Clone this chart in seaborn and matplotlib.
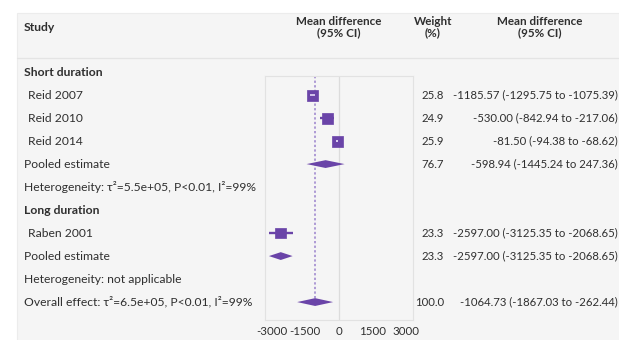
import matplotlib
matplotlib.use("Agg")
import matplotlib.pyplot as plt
from matplotlib.transforms import blended_transform_factory
import numpy as np
import pandas as pd
import seaborn as sns

# rows of the forest plot, top to bottom
row_labels = ["Short duration", "Reid 2007", "Reid 2010", "Reid 2014", "Pooled estimate",
              "Heterogeneity: \u03c4\u00b2=5.5e+05, P<0.01, I\u00b2=99%", "Long duration",
              "Raben 2001", "Pooled estimate", "Heterogeneity: not applicable",
              "Overall effect: \u03c4\u00b2=6.5e+05, P<0.01, I\u00b2=99%"]
row_kind = ["group", "study", "study", "study", "pooled", "het", "group",
            "study", "pooled", "het", "overall"]

study_names = ["Reid 2007", "Reid 2010", "Reid 2014", "Raben 2001"]
study_md = [-1185.57, -530.00, -81.50, -2597.00]
study_lo = [-1295.75, -842.94, -94.38, -3125.35]
study_hi = [-1075.39, -217.06, -68.62, -2068.65]
study_weight = [25.8, 24.9, 25.9, 23.3]

pooled_names = ["Short pooled", "Long pooled", "Overall"]
pooled_md = [-598.94, -2597.00, -1064.73]
pooled_lo = [-1445.24, -3125.35, -1867.03]
pooled_hi = [247.36, -2068.65, -262.44]
pooled_weight = [76.7, 23.3, 100.0]

xticks = [-3000, -1500, 0, 1500, 3000]

PURPLE = "#6a44a8"
DASH = "#9a82cc"
TEXT = "#2f2f2f"
BG = "#f5f5f5"

sns.set_theme(style="white")
plt.rcParams["font.family"] = ["Lato", "DejaVu Sans"]

W, H = 619, 340
fig = plt.figure(figsize=(W / 100, H / 100), dpi=100)
fig.patch.set_facecolor("white")

# grey panel behind everything
panel = plt.Rectangle((17 / W, -0.01), 1, 1.01 - 13 / H, transform=fig.transFigure,
                      facecolor=BG, edgecolor="#ececec", lw=0.8, zorder=-5)
fig.patches.append(panel)

ax = fig.add_axes([265 / W, 20 / H, 148 / W, 244 / H])
ax.set_facecolor(BG)
ax.set_zorder(2)

y_top = 0.17
y_bot = 10.78
ax.set_ylim(y_bot, y_top)
ax.set_xlim(-3300, 3300)

row_of = {}
for i, (lab, kind) in enumerate(zip(row_labels, row_kind)):
    if kind == "study":
        row_of[lab] = i
study_rows = [row_of[n] for n in study_names]
pooled_rows = [4, 8, 10]

# reference lines
ax.axvline(0, color="#dcdcdc", lw=0.9, zorder=1)
ax.plot([pooled_md[2], pooled_md[2]], [y_top, pooled_rows[2]], color=DASH, lw=1.1,
        ls=(0, (1.5, 1.5)), zorder=1)

# study confidence intervals and squares
ax.hlines(study_rows, study_lo, study_hi, color=PURPLE, lw=1.7, zorder=2)
df = pd.DataFrame({"md": study_md, "row": study_rows, "w": study_weight})
sizes = [62 * w / 25 for w in study_weight]
sns.scatterplot(data=df, x="md", y="row", marker="s", s=sizes, color=PURPLE,
                edgecolor=PURPLE, linewidth=0.5, ax=ax, zorder=3, legend=False)

# lighter CI where it falls inside the square
px_per_unit = 148 / 6600
for r, md, lo, hi, w in zip(study_rows, study_md, study_lo, study_hi, study_weight):
    half = np.sqrt(62 * w / 25) / 72 * 100 / 2 / px_per_unit
    if lo > md - half and hi < md + half:
        if hi - lo < 60:
            ax.plot([md], [r], marker="s", ms=1.6, color="#d9cdf0", mew=0, zorder=4)
        else:
            ax.hlines([r], [lo], [hi], color="#d9cdf0", lw=1.3, zorder=4)

# diamonds
dh = 0.17
for r, md, lo, hi in zip(pooled_rows, pooled_md, pooled_lo, pooled_hi):
    ax.fill([lo, md, hi, md], [r, r - dh, r, r + dh], color=PURPLE, lw=0, zorder=3)

ax.set_xticks(xticks)
ax.set_xticklabels([str(t) for t in xticks], fontsize=8.3, color=TEXT)
ax.tick_params(axis="x", length=0, pad=4)
ax.set_yticks([])
ax.set_xlabel("")
ax.set_ylabel("")
for s in ax.spines.values():
    s.set_color("#e2e2e2")
    s.set_linewidth(0.8)

tr = blended_transform_factory(fig.transFigure, ax.transData)


def px(x):
    return x / W


fs = 8.7
fs_num = 8.2
# header
head_y = -1.96
ax.text(px(24), head_y, "Study", transform=tr, ha="left", va="center", fontsize=fs,
        fontweight="bold", color=TEXT, clip_on=False)
ax.text(px(339), head_y, "Mean difference\n(95% CI)", transform=tr, ha="center", va="center",
        fontsize=fs - 0.3, fontweight="bold", color=TEXT, linespacing=1.05, clip_on=False)
ax.text(px(433), head_y, "Weight\n(%)", transform=tr, ha="center", va="center",
        fontsize=fs - 0.3, fontweight="bold", color=TEXT, linespacing=1.05, clip_on=False)
ax.text(px(540), head_y, "Mean difference\n(95% CI)", transform=tr, ha="center", va="center",
        fontsize=fs - 0.3, fontweight="bold", color=TEXT, linespacing=1.05, clip_on=False)
ax.plot([px(17), 1], [-0.62, -0.62], transform=tr, color="#e4e4e4", lw=0.9, clip_on=False)

# left column labels
for i, (lab, kind) in enumerate(zip(row_labels, row_kind)):
    x0 = 28 if kind == "study" else 24
    weight = "bold" if kind == "group" else "normal"
    ax.text(px(x0), i, lab, transform=tr, ha="left", va="center", fontsize=fs,
            fontweight=weight, color=TEXT, clip_on=False)

# right columns
right_rows = study_rows[:3] + [pooled_rows[0]] + [study_rows[3], pooled_rows[1], pooled_rows[2]]
right_w = study_weight[:3] + [pooled_weight[0]] + [study_weight[3], pooled_weight[1], pooled_weight[2]]
right_md = study_md[:3] + [pooled_md[0]] + [study_md[3], pooled_md[1], pooled_md[2]]
right_lo = study_lo[:3] + [pooled_lo[0]] + [study_lo[3], pooled_lo[1], pooled_lo[2]]
right_hi = study_hi[:3] + [pooled_hi[0]] + [study_hi[3], pooled_hi[1], pooled_hi[2]]
for r, w, md, lo, hi in zip(right_rows, right_w, right_md, right_lo, right_hi):
    ax.text(px(444), r, f"{w:.1f}", transform=tr, ha="right", va="center", fontsize=fs_num,
            color=TEXT, clip_on=False)
    ax.text(px(618), r, f"{md:.2f} ({lo:.2f} to {hi:.2f})", transform=tr, ha="right",
            va="center", fontsize=fs_num, color=TEXT, clip_on=False)

fig.savefig("out.png", dpi=100, facecolor=fig.get_facecolor())
